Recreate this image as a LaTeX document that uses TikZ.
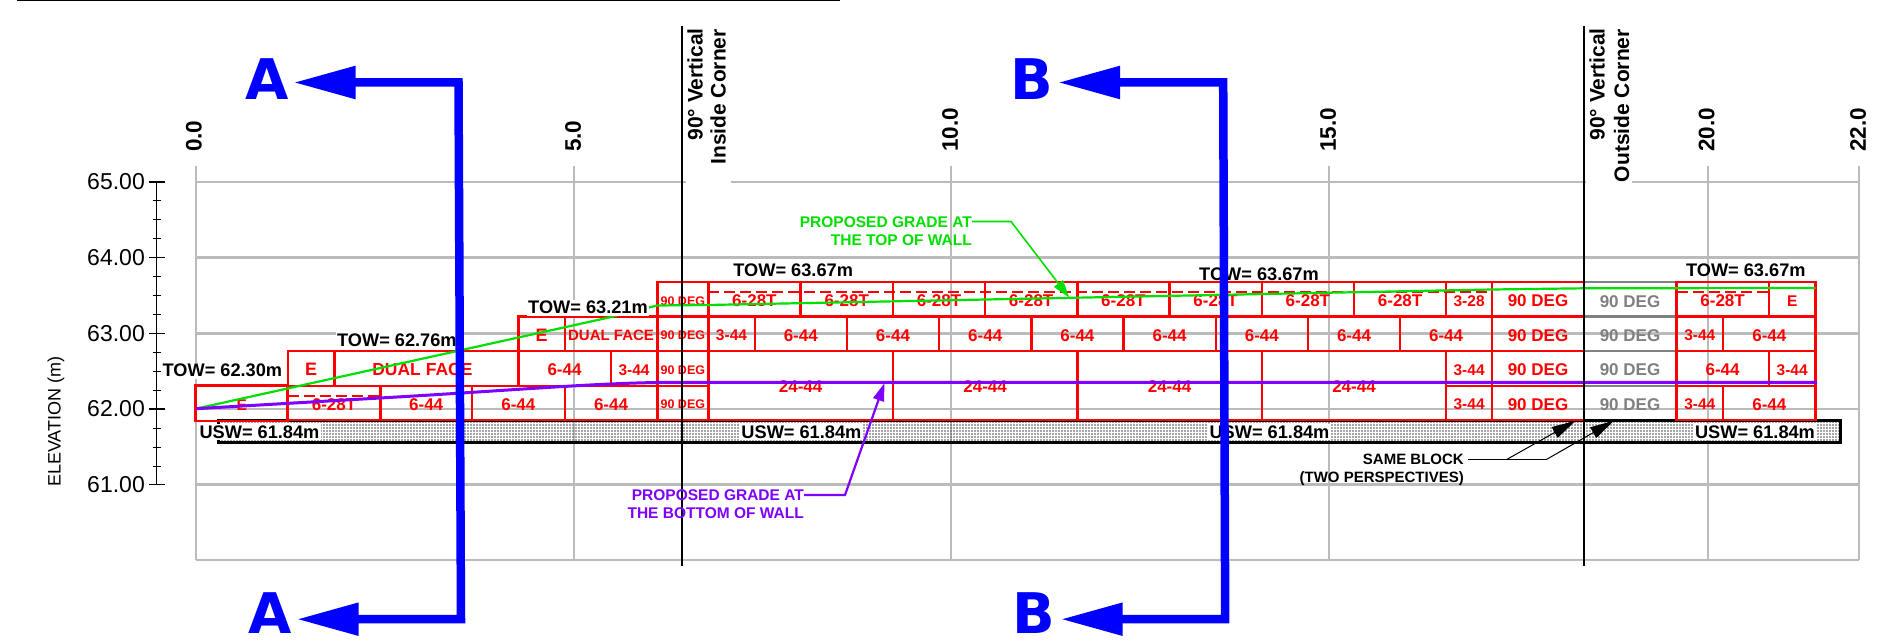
\documentclass[tikz,border=0pt]{standalone}
\usepackage{fontspec}
\usetikzlibrary{arrows.meta,patterns.meta}
\setmainfont{Liberation Sans}
\newfontfamily\heavyfont{DejaVu Sans}
\definecolor{gridc}{HTML}{BBBBBB}
\definecolor{redc}{HTML}{FF0000}
\definecolor{greenc}{HTML}{00E000}
\definecolor{purplec}{HTML}{7F00FF}
\definecolor{bluec}{HTML}{0000FF}
\definecolor{greyt}{HTML}{808080}
\tikzset{
  gridl/.style={draw=gridc,line width=2.2pt},
  redbox/.style={draw=redc,line width=2.4pt},
  t15/.style={text=redc,inner sep=0pt,yshift=-1.5pt,font=\bfseries\fontsize{17}{19}\selectfont},
  t11/.style={text=redc,inner sep=0pt,yshift=-1.5pt,font=\bfseries\fontsize{12.5}{14}\selectfont},
  t14/.style={text=redc,inner sep=0pt,yshift=-1.5pt,font=\bfseries\fontsize{15.5}{17}\selectfont},
  tE/.style={text=redc,inner sep=0pt,yshift=-1pt,font=\bfseries\fontsize{18}{20}\selectfont},
  tgrey/.style={text=greyt,inner sep=0pt,yshift=-1.5pt,font=\bfseries\fontsize{17}{19}\selectfont},
  lev/.style={fill=white,inner sep=1.5pt,text=black,font=\bfseries\fontsize{18.2}{20}\selectfont},
  ytick/.style={anchor=east,inner sep=0pt,font=\fontsize{23}{25}\selectfont},
  xtick/.style={rotate=90,anchor=west,inner sep=0pt,font=\bfseries\fontsize{22.5}{24}\selectfont},
  corner/.style={rotate=90,anchor=east,inner sep=0pt,font=\bfseries\fontsize{21}{23}\selectfont},
  note/.style={align=right,anchor=east,inner sep=0pt,font=\bfseries\fontsize{15.5}{18}\selectfont},
  letter/.style={text=bluec,inner sep=0pt,font=\heavyfont\bfseries\fontsize{56}{58}\selectfont},
  secline/.style={draw=bluec,line width=8.5pt,miter limit=10,
    {Triangle[length=62pt,width=31pt]}-{Triangle[length=62pt,width=31pt]}},
  gradearrow/.style={-{Triangle[length=18pt,width=11pt]}},
  blackarrow/.style={draw=black,line width=1pt,-{Triangle[length=24pt,width=12pt]}},
}
\def\blk#1#2#3#4#5#6#7{\draw[redbox] (#2,#4) rectangle (#3,#5) node[midway,#6] (#1) {#7};}
\def\RA{420}\def\RB{385.7}\def\RC{351}\def\RD{316.7}\def\RE{282.3}
\begin{document}
\begin{tikzpicture}[x=1pt,y=-1pt]
\useasboundingbox (0,0) rectangle (1888,644);
\fill[white] (0,0) rectangle (1888,644);
% top rule
\coordinate (ruleL) at (17,0.5); \coordinate (ruleR) at (840,0.5);
\draw[line width=2pt] (ruleL) -- (ruleR);
% grid
\foreach \yy in {257.5,333.5,409,484.5,560}{\draw[gridl] (196,\yy) -- (1859,\yy);}
\draw[gridl] (196,182) -- (686,182);
\draw[gridl] (731,182) -- (1586,182);
\draw[gridl] (1632,182) -- (1859,182);
\foreach \xx in {196,574,951,1329,1708,1859}{\draw[gridl] (\xx,166) -- (\xx,560);}
% axis
\draw[line width=1.3pt] (156.7,182) -- (156.7,484.5);
\foreach \yy in {182,257.5,333.5,409,484.5}{\draw[line width=1.3pt] (149,\yy) -- (165,\yy);}
\foreach \yy in {201,220,238.5,276.5,295.5,314.5,352.5,371.5,390,428,447,466}{\draw[line width=1pt] (152.7,\yy) -- (161,\yy);}
\node[ytick] (y65) at (145,182) {65.00};
\node[ytick] (y64) at (145,257.5) {64.00};
\node[ytick] (y63) at (145,333.5) {63.00};
\node[ytick] (y62) at (145,409) {62.00};
\node[ytick] (y61) at (145,484.5) {61.00};
\node[rotate=90,anchor=west,inner sep=0pt,font=\fontsize{18}{20}\selectfont] (ylab) at (56,487) {ELEVATION (m)};
\node[xtick] (x0) at (194,152) {0.0};
\node[xtick] (x5) at (573,152) {5.0};
\node[xtick] (x10) at (950,152) {10.0};
\node[xtick] (x15) at (1328,152) {15.0};
\node[xtick] (x20) at (1706.5,152) {20.0};
\node[xtick] (x22) at (1858,152) {22.0};
% footing
\draw[line width=3pt,pattern={Dots[radius=0.8pt,distance=3pt]},pattern color=black!70] (218.5,420) rectangle (1840,442.7);
% grey blocks
\foreach \yy in {\RE,\RD,\RC,\RB}{\draw[draw=greyt,line width=2.4pt] (1584,\yy) -- (1676.5,\yy);}
\node[tgrey] (g1) at (1630,403) {90 DEG};
\node[tgrey] (g2) at (1630,368.5) {90 DEG};
\node[tgrey] (g3) at (1630,334) {90 DEG};
\node[tgrey] (g4) at (1630,300) {90 DEG};
% row 1
\draw[draw=redc,line width=2.8pt] (195.8,\RB) rectangle (287.7,421) node[midway,t14] (a1) {E};
\blk{a2}{287.7}{380.3}{\RB}{\RA}{t15}{6-28T}
\blk{a3}{380.3}{472}{\RB}{\RA}{t15}{6-44}
\blk{a4}{472}{564.7}{\RB}{\RA}{t15}{6-44}
\blk{a5}{564.7}{657.4}{\RB}{\RA}{t15}{6-44}
\blk{a6}{657.4}{708.3}{\RB}{\RA}{t11}{90 DEG}
\blk{a7}{1446.2}{1492}{\RB}{\RA}{t14}{3-44}
\blk{a8}{1492}{1584}{\RB}{\RA}{t15}{90 DEG}
\blk{a9}{1676.5}{1723}{\RB}{\RA}{t14}{3-44}
\blk{a10}{1723}{1815.6}{\RB}{\RA}{t15}{6-44}
% 24-44 double-height
\blk{d1}{708.3}{892.9}{\RC}{\RA}{t15}{24-44}
\blk{d2}{892.9}{1077.3}{\RC}{\RA}{t15}{24-44}
\blk{d3}{1077.3}{1261.8}{\RC}{\RA}{t15}{24-44}
\blk{d4}{1261.8}{1446.2}{\RC}{\RA}{t15}{24-44}
% row 2
\blk{b1}{287.7}{334.4}{\RC}{\RB}{tE}{E}
\blk{b2}{334.4}{518.4}{\RC}{\RB}{t15,xshift=-4pt,font=\bfseries\fontsize{17.5}{19}\selectfont}{DUAL FACE}
\blk{b3}{518.4}{610.7}{\RC}{\RB}{t15}{6-44}
\blk{b4}{610.7}{657.4}{\RC}{\RB}{t14}{3-44}
\blk{b5}{657.4}{708.3}{\RC}{\RB}{t11}{90 DEG}
\blk{b6}{1446.2}{1492}{\RC}{\RB}{t14}{3-44}
\blk{b7}{1492}{1584}{\RC}{\RB}{t15}{90 DEG}
\blk{b8}{1676.5}{1768.7}{\RC}{\RB}{t15}{6-44}
\blk{b9}{1768.7}{1815.6}{\RC}{\RB}{t14}{3-44}
% row 3
\blk{c1}{518.4}{564.7}{\RD}{\RC}{tE}{E}
\blk{c2}{564.7}{657.4}{\RD}{\RC}{t14,font=\bfseries\fontsize{15}{17}\selectfont}{DUAL FACE}
\blk{c3}{657.4}{708.3}{\RD}{\RC}{t11}{90 DEG}
\blk{c4}{708.3}{754.7}{\RD}{\RC}{t14}{3-44}
\blk{c5}{754.7}{846.9}{\RD}{\RC}{t15}{6-44}
\blk{c6}{846.9}{939.1}{\RD}{\RC}{t15}{6-44}
\blk{c7}{939.1}{1031.3}{\RD}{\RC}{t15}{6-44}
\blk{c8}{1031.3}{1123.5}{\RD}{\RC}{t15}{6-44}
\blk{c9}{1123.5}{1215.7}{\RD}{\RC}{t15}{6-44}
\blk{c10}{1215.7}{1307.9}{\RD}{\RC}{t15}{6-44}
\blk{c11}{1307.9}{1400.1}{\RD}{\RC}{t15}{6-44}
\blk{c12}{1400.1}{1492}{\RD}{\RC}{t15}{6-44}
\blk{c13}{1492}{1584}{\RD}{\RC}{t15}{90 DEG}
\blk{c14}{1676.5}{1723}{\RD}{\RC}{t14}{3-44}
\blk{c15}{1723}{1815.6}{\RD}{\RC}{t15}{6-44}
% row 4
\blk{e1}{657.4}{708.3}{\RE}{\RD}{t11}{90 DEG}
\blk{e2}{708.3}{800.5}{\RE}{\RD}{t15}{6-28T}
\blk{e3}{800.5}{892.9}{\RE}{\RD}{t15}{6-28T}
\blk{e4}{892.9}{985}{\RE}{\RD}{t15}{6-28T}
\blk{e5}{985}{1077.3}{\RE}{\RD}{t15}{6-28T}
\blk{e6}{1077.3}{1169.5}{\RE}{\RD}{t15}{6-28T}
\blk{e7}{1169.5}{1261.8}{\RE}{\RD}{t15}{6-28T}
\blk{e8}{1261.8}{1354}{\RE}{\RD}{t15}{6-28T}
\blk{e9}{1354}{1446.2}{\RE}{\RD}{t15}{6-28T}
\blk{e10}{1446.2}{1492}{\RE}{\RD}{t14}{3-28}
\blk{e11}{1492}{1584}{\RE}{\RD}{t15}{90 DEG}
\blk{e12}{1676.5}{1768.7}{\RE}{\RD}{t15}{6-28T}
\blk{e13}{1768.7}{1815.6}{\RE}{\RD}{t14}{E}
% dashed capping lines
\tikzset{capline/.style={draw=redc,line width=1.8pt,dash pattern=on 11pt off 5pt}}
\draw[capline] (287.7,395.7) -- (380.3,395.7);
\draw[capline] (708.3,292.3) -- (1492,292.3);
\draw[capline] (1676.5,292.3) -- (1768.7,292.3);
% grade lines
\draw[draw=greenc,line width=2.2pt] (196,408.7) -- (608,317.7) -- (657,305.5) -- (708,305) -- (1077,297.7) -- (1492,289.5) -- (1584,288.3) -- (1815.6,288);
\draw[draw=purplec,line width=3pt] (196,408.7) -- (380,398) .. controls (520,390) and (600,382.3) .. (680,382.3) -- (1817,382.3);
% levels
\node[lev] (tow1) at (222.4,370.7) {TOW= 62.30m};
\node[lev] (tow2) at (396.9,340) {TOW= 62.76m};
\node[lev] (tow3) at (588,307.7) {TOW= 63.21m};
\node[lev,fill=none] (tow4) at (793.2,270) {TOW= 63.67m};
\node[lev,fill=none] (tow5) at (1259,274) {TOW= 63.67m};
\node[lev,fill=none] (tow6) at (1745.8,270) {TOW= 63.67m};
\node[lev] (usw1) at (259.5,432.3) {USW= 61.84m};
\node[lev] (usw2) at (801.4,432) {USW= 61.84m};
\node[lev] (usw3) at (1269.5,432) {USW= 61.84m};
\node[lev] (usw4) at (1755,432) {USW= 61.84m};
% corner lines
\coordinate (inT) at (682,25.7); \coordinate (inB) at (682,566);
\coordinate (outT) at (1584.3,25.7); \coordinate (outB) at (1584.3,566);
\draw[line width=2.2pt] (inT) -- (inB);
\draw[line width=2.2pt] (outT) -- (outB);
\node[corner] (c1a) at (695,28) {90° Vertical};
\node[corner] (c1b) at (718,29) {Inside Corner};
\node[corner] (c2a) at (1597,28) {90° Vertical};
\node[corner] (c2b) at (1621.5,29) {Outside Corner};
% green annotation
\node[note,text=greenc] (gnote) at (972,231) {PROPOSED GRADE AT\\THE TOP OF WALL};
\coordinate (gS) at (972,221.5); \coordinate (gK) at (1011,221.5); \coordinate (gE) at (1069.3,297.7);
\draw[draw=greenc,line width=1.6pt,gradearrow] (gS) -- (gK) -- (gE);
% purple annotation
\node[note,text=purplec] (pnote) at (804,504) {PROPOSED GRADE AT\\THE BOTTOM OF WALL};
\coordinate (pS) at (804,495); \coordinate (pK) at (845,495); \coordinate (pE) at (884.5,383);
\draw[draw=purplec,line width=2.2pt,gradearrow] (pS) -- (pK) -- (pE);
% same block
\node[note,text=black,font=\bfseries\fontsize{15}{18}\selectfont] (same) at (1464,470) {SAME BLOCK\\(TWO PERSPECTIVES)};
\coordinate (sS) at (1468,459.3); \coordinate (sK1) at (1507,459.3); \coordinate (sK2) at (1546.7,459.3);
\coordinate (sE1) at (1575.6,420.7); \coordinate (sE2) at (1614,420.7);
\draw[line width=1pt] (sS) -- (sK2);
\draw[blackarrow] (sK1) -- (sE1);
\draw[blackarrow] (sK2) -- (sE2);
% section lines
\node[letter] (Atop) at (267.5,79.5) {A};
\node[letter] (Abot) at (270,613.5) {A};
\node[letter] (Btop) at (1031.7,79.5) {B};
\node[letter] (Bbot) at (1034,613.5) {B};
\coordinate (AtT) at (293.5,82.5); \coordinate (AtK) at (458.5,82.5);
\coordinate (AbK) at (461,619.2); \coordinate (AbT) at (296.7,619.2);
\coordinate (BtT) at (1058,82.5); \coordinate (BtK) at (1223.2,82.5);
\coordinate (BbK) at (1225.2,619.2); \coordinate (BbT) at (1060.7,619.2);
\draw[secline] (AtT) -- (AtK) -- (AbK) -- (AbT);
\draw[secline] (BtT) -- (BtK) -- (BbK) -- (BbT);
\end{tikzpicture}
\end{document}
